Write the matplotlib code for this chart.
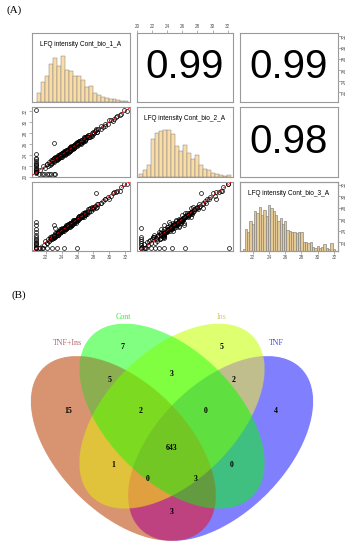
import numpy as np
import matplotlib
matplotlib.use("Agg")
import matplotlib.pyplot as plt

# ------------------------------------------------------------------ data
sample_names = ["LFQ intensity Cont_bio_1_A",
                "LFQ intensity Cont_bio_2_A",
                "LFQ intensity Cont_bio_3_A"]

# per-protein log2 LFQ intensities (estimated from the scatter panels)
rep1 = [21.9, 22.1, 22.3, 22.4, 22.6, 22.7, 22.8, 22.9, 23.0, 23.1, 23.2, 23.3, 23.3, 23.4, 23.5, 23.5,
        23.6, 23.7, 23.7, 23.8, 23.9, 23.9, 24.0, 24.1, 24.1, 24.2, 24.3, 24.3, 24.4, 24.5, 24.5, 24.6,
        24.7, 24.7, 24.8, 24.9, 25.0, 25.0, 25.1, 25.2, 25.2, 25.3, 25.4, 25.5, 25.5, 25.6, 25.7, 25.8,
        25.9, 26.0, 26.0, 26.1, 26.2, 26.3, 26.4, 26.5, 26.6, 26.7, 26.8, 26.9, 27.0, 27.1, 27.2, 27.4,
        27.5, 27.7, 27.8, 28.0, 28.2, 28.4, 28.6, 28.9, 29.2, 29.5, 29.8, 30.2, 30.6, 31.0, 31.5, 32.2,
        22.5, 22.8, 23.0, 23.2, 23.4, 23.5, 23.6, 23.8, 23.9, 24.0, 24.1, 24.2, 24.3, 24.4, 24.5, 24.6,
        24.6, 24.7, 24.8, 24.9, 25.0, 25.1, 25.1, 25.2, 25.3, 25.4, 25.5, 25.6, 25.6, 25.7, 25.8, 25.9,
        26.0, 26.1, 26.2, 26.3, 26.4, 26.5, 26.6, 26.8, 26.9, 27.0, 27.2, 27.3, 27.5, 27.6, 27.9, 28.1,
        28.3, 28.5, 23.3, 23.6, 23.9, 24.2, 24.4, 24.7, 24.9, 25.2, 25.4, 25.7, 25.9, 26.2, 26.4, 26.7,
        27.1, 22.6, 23.1, 23.7, 24.5, 25.3, 26.0, 26.9, 27.8, 29.0, 29.4, 30.0, 30.4, 30.8, 31.3, 31.8,
        20.75, 20.75, 20.75, 20.75, 20.75, 20.75, 20.75, 20.75, 20.75, 20.75, 20.75, 20.75, 20.75, 20.75, 20.75,
        21.2, 21.5, 21.8, 22.1, 22.4, 22.7, 23.0, 23.2,
        20.8, 21.3, 21.7, 22.2, 22.8, 23.4, 24.3, 25.9,
        23.1, 28.3]
rep2 = [21.6, 22.4, 22.0, 22.7, 22.3, 23.0, 22.6, 23.2, 22.8, 23.4, 23.0, 23.6, 23.1, 23.2, 23.8, 23.3,
        23.9, 23.5, 24.0, 23.6, 24.2, 23.7, 24.3, 23.9, 24.4, 24.0, 24.6, 24.1, 24.7, 24.2, 24.8, 24.4,
        24.9, 24.5, 25.1, 24.6, 25.3, 24.8, 25.4, 24.9, 25.5, 25.1, 25.7, 25.2, 25.8, 25.4, 25.9, 25.6,
        26.1, 25.8, 26.2, 25.9, 26.4, 26.1, 26.7, 26.3, 26.8, 26.5, 27.0, 26.7, 27.2, 26.9, 27.4, 27.2,
        27.7, 27.5, 28.0, 27.8, 28.4, 28.2, 28.8, 28.7, 29.0, 29.6, 29.7, 30.3, 30.5, 31.1, 31.4, 32.0,
        22.1, 23.0, 22.9, 23.6, 23.1, 23.6, 23.6, 24.1, 23.7, 23.6, 24.3, 24.1, 24.7, 24.1, 24.6, 24.6,
        24.9, 24.5, 24.4, 25.1, 24.9, 25.5, 24.8, 25.3, 25.3, 25.7, 25.3, 25.2, 25.8, 25.6, 26.2, 25.6,
        26.1, 26.1, 26.5, 26.1, 26.0, 26.7, 26.5, 27.2, 26.6, 27.1, 27.2, 27.6, 27.3, 27.2, 28.1, 28.0,
        28.7, 28.2, 23.4, 23.6, 24.2, 24.0, 24.0, 24.9, 24.8, 25.6, 25.1, 25.8, 25.9, 26.5, 26.2, 26.3,
        27.3, 22.5, 23.5, 23.4, 24.6, 25.3, 26.3, 26.7, 27.4, 29.2, 29.3, 30.4, 30.1, 30.9, 31.3, 32.1,
        20.7, 20.9, 21.1, 21.3, 21.5, 21.7, 21.9, 22.1, 22.3, 22.6, 22.9, 23.2, 23.5, 24.2, 32.2,
        20.45, 20.45, 20.45, 20.45, 20.45, 20.45, 20.45, 20.45,
        20.9, 21.2, 21.9, 22.4, 22.9, 23.6, 24.6, 26.4,
        26.2, 28.5]
rep3 = [22.2, 21.9, 22.5, 22.2, 22.8, 22.5, 23.1, 22.7, 23.3, 22.9, 23.5, 23.1, 23.5, 23.2, 23.7, 23.3,
        23.8, 23.5, 24.0, 23.6, 24.1, 23.8, 24.2, 23.9, 24.4, 24.0, 24.5, 24.2, 24.6, 24.3, 24.8, 24.4,
        25.0, 24.6, 25.0, 24.8, 25.2, 24.9, 25.3, 25.1, 25.4, 25.2, 25.6, 25.3, 25.7, 25.5, 25.9, 25.6,
        26.0, 25.8, 26.2, 26.0, 26.4, 26.2, 26.6, 26.4, 26.8, 26.6, 27.0, 26.8, 27.2, 27.0, 27.3, 27.3,
        27.7, 27.5, 28.0, 27.9, 28.3, 28.1, 28.7, 28.8, 29.1, 29.6, 29.8, 30.1, 30.7, 30.9, 31.6, 32.1,
        22.8, 22.6, 23.1, 22.8, 23.6, 23.5, 23.3, 24.2, 23.8, 24.3, 23.9, 24.3, 23.9, 24.6, 24.5, 24.3,
        25.0, 24.6, 25.1, 24.7, 25.1, 24.7, 25.3, 25.2, 25.0, 25.8, 25.4, 25.9, 25.4, 25.8, 25.4, 26.1,
        26.0, 25.8, 26.6, 26.2, 26.7, 26.3, 26.7, 26.4, 27.1, 27.0, 26.9, 27.7, 27.4, 27.9, 27.7, 28.2,
        27.9, 28.7, 23.3, 23.3, 24.3, 24.1, 24.7, 24.5, 25.0, 24.8, 25.6, 25.7, 25.6, 26.6, 26.3, 27.0,
        26.9, 22.7, 22.7, 23.9, 24.5, 25.0, 26.4, 26.8, 28.1, 28.8, 29.5, 29.6, 30.6, 30.8, 31.0, 32.2,
        21.2, 21.6, 21.0, 22.0, 21.4, 22.4, 21.9, 22.8, 23.3, 22.6, 23.8, 24.3, 25.0, 25.5, 20.9,
        20.9, 21.0, 21.4, 21.8, 22.1, 22.5, 22.8, 24.4,
        20.9, 20.9, 20.9, 20.9, 20.9, 20.9, 20.9, 20.9,
        25.0, 30.6]
replicates = [rep1, rep2, rep3]

# histogram bar heights (relative counts)
hist_counts = [
    [26, 58, 78, 111, 131, 106, 136, 96, 91, 78, 76, 66, 44, 48, 26, 21, 14, 12, 10, 8, 5, 3, 2],
    [8, 20, 36, 110, 128, 133, 136, 136, 126, 90, 75, 93, 71, 53, 63, 35, 23, 20, 13, 8, 6, 3, 6],
    [6, 68, 58, 93, 83, 123, 118, 138, 113, 128, 108, 143, 133, 125, 113, 93, 103, 83, 93, 65,
     63, 58, 60, 55, 58, 60, 28, 28, 25, 28, 11, 8, 15, 8, 13, 23, 8, 5, 25, 5],
]
hist_start = [20.9, 20.3, 20.73]
hist_binwidth = [0.5, 0.53, 0.285]

corr_pairs = [(0, 1), (0, 2), (1, 2)]
corr_values = ["0.99", "0.99", "0.98"]

axis_ticks = [20, 22, 24, 26, 28, 30, 32]

# Venn diagram
set_names = ["TNF+Ins", "Cont", "Ins", "TNF"]
region_sets = [(0,), (1,), (2,), (3,), (0, 1), (1, 2), (2, 3), (0, 1, 2), (1, 2, 3),
               (0, 1, 2, 3), (0, 2), (1, 3), (0, 2, 3), (0, 1, 3), (0, 3)]
region_counts = [15, 7, 5, 4, 5, 3, 2, 2, 0, 643, 1, 0, 0, 3, 3]

# ------------------------------------------------------------------ layout / style
W, H = 356, 550
fig = plt.figure(figsize=(W / 100, H / 100), dpi=100)

var_lims = [(20.27, 32.6), (19.98, 32.72), (20.42, 32.5)]
col_px = [(32, 130), (137, 233), (240, 338)]
row_px = [(33, 102), (107, 177), (182, 251)]

frame_col = "#9a9a9a"
hist_fill = ["#F9DCA6", "#F9DCA6", "#E6CA96"]
hist_edge_lw = [0.35, 0.35, 0.45]
tick_kw = dict(length=2, width=0.4, color="#777777", labelsize=3.3,
               labelcolor="#555555", pad=1)
sans = ["Liberation Sans", "DejaVu Sans"]
serif = ["Liberation Serif", "DejaVu Serif"]


def px_axes(xr, yr):
    return fig.add_axes([xr[0] / W, 1 - yr[1] / H, (xr[1] - xr[0]) / W, (yr[1] - yr[0]) / H])


def style_frame(ax):
    for s in ax.spines.values():
        s.set_color(frame_col)
        s.set_linewidth(0.8)
    ax.set_xticks([])
    ax.set_yticks([])


def ticks_in(lims):
    return [t for t in axis_ticks if lims[0] <= t <= lims[1]]


for i in range(3):
    for j in range(3):
        ax = px_axes(col_px[j], row_px[i])
        style_frame(ax)
        ax.set_xlim(var_lims[j])
        yax = ax
        if i == j:
            cnt = hist_counts[i]
            lefts = [hist_start[i] + k * hist_binwidth[i] for k in range(len(cnt))]
            ax.bar(lefts, cnt, width=hist_binwidth[i], align="edge", color=hist_fill[i],
                   edgecolor="#808080", linewidth=hist_edge_lw[i])
            ax.set_ylim(0, 1.5 * max(cnt))
            ax.text(0.5, 0.83, sample_names[i], transform=ax.transAxes, ha="center",
                    va="center", fontsize=4.7, family=sans)
            if i == 2:
                yax = ax.twinx()
                style_frame(yax)
                yax.set_ylim(var_lims[i])
        elif i > j:
            ax.set_ylim(var_lims[i])
            ax.plot(replicates[j], replicates[i], "o", ms=2.8, mfc="none", mec="black",
                    mew=0.5, zorder=2)
            ax.axline((25, 25), slope=1, color="red", lw=0.6, ls=(0, (3, 2)), zorder=3)
        else:
            ax.set_ylim(var_lims[i])
            k = corr_pairs.index((i, j))
            ax.text(0.5, 0.5, corr_values[k], transform=ax.transAxes, ha="center",
                    va="center", fontsize=29, family=sans)
        # outer axes as in R pairs()
        if i == 2 and j in (0, 2):
            ax.set_xticks(ticks_in(var_lims[j]))
            ax.tick_params(axis="x", bottom=True, labelbottom=True, **tick_kw)
        if i == 0 and j == 1:
            ax.set_xticks(ticks_in(var_lims[j]))
            ax.tick_params(axis="x", top=True, labeltop=True, bottom=False,
                           labelbottom=False, **tick_kw)
        if j == 0 and i == 1:
            ax.set_yticks(ticks_in(var_lims[i]))
            ax.tick_params(axis="y", left=True, labelleft=True, **tick_kw)
            for lb in ax.get_yticklabels():
                lb.set_rotation(90)
                lb.set_va("center")
        if j == 2 and i in (0, 2):
            yax.set_yticks(ticks_in(var_lims[i]))
            yax.tick_params(axis="y", right=True, labelright=True, left=False,
                            labelleft=False, **tick_kw)
            for lb in yax.get_yticklabels():
                lb.set_rotation(90)
                lb.set_va("center")
        for lb in ax.get_xticklabels() + ax.get_yticklabels() + yax.get_yticklabels():
            lb.set_family(sans)

fig.text(14 / W, 1 - 10 / H, "(A)", ha="center", va="center", fontsize=8, family=serif)
fig.text(19 / W, 1 - 295 / H, "(B)", ha="center", va="center", fontsize=8, family=serif)

# ------------------------------------------------------------------ Venn diagram
ell_geom = [(0.35, 0.47, -45), (0.50, 0.57, -45), (0.50, 0.57, 45), (0.65, 0.47, 45)]
ell_a, ell_b = 0.35, 0.20
region_colors = ["#D99470", "#80FF80", "#DFFF70", "#8080FF", "#8BB050", "#80FF40",
                 "#C0BF8C", "#7CDC22", "#60E040", "#72C824", "#E0C43A", "#40C080",
                 "#E0A040", "#649C40", "#BE4280"]
label_pos = [(0.180, 0.585), (0.349, 0.782), (0.651, 0.782), (0.820, 0.585),
             (0.309, 0.681), (0.500, 0.699), (0.691, 0.681), (0.402, 0.585),
             (0.602, 0.585), (0.500, 0.472), (0.318, 0.419), (0.682, 0.419),
             (0.426, 0.376), (0.574, 0.376), (0.500, 0.275)]
name_pos = [(0.180, 0.795), (0.349, 0.875), (0.651, 0.875), (0.820, 0.795)]
name_colors = ["#B8646C", "#3CEB3C", "#D6CC70", "#4646E8"]

vx0, vx1, vy0, vy1 = -0.029, 1.066, 0.1577, 0.9885
vax = fig.add_axes([0, 0, 1, 270 / H])
vax.set_xlim(vx0, vx1)
vax.set_ylim(vy0, vy1)
vax.axis("off")

nx, ny = 1424, 1080
gx, gy = np.meshgrid(np.linspace(vx0, vx1, nx), np.linspace(vy0, vy1, ny))
code = np.zeros(gx.shape, dtype=int)
for k, (cx, cy, ang) in enumerate(ell_geom):
    t = np.deg2rad(ang)
    dx, dy = gx - cx, gy - cy
    u = dx * np.cos(t) + dy * np.sin(t)
    v = -dx * np.sin(t) + dy * np.cos(t)
    code |= (((u / ell_a) ** 2 + (v / ell_b) ** 2) <= 1).astype(int) << k

lut = np.ones((16, 4))
lut[0, 3] = 0.0
for sets, col in zip(region_sets, region_colors):
    idx = sum(1 << s for s in sets)
    lut[idx] = matplotlib.colors.to_rgba(col)
vax.imshow(lut[code], origin="lower", extent=(vx0, vx1, vy0, vy1),
           interpolation="antialiased", aspect="auto")

for (x, y), n in zip(label_pos, region_counts):
    vax.text(x, y, str(n), ha="center", va="center", fontsize=5.6,
             fontweight="bold", family=serif)
for (x, y), nm, c in zip(name_pos, set_names, name_colors):
    vax.text(x, y, nm, ha="center", va="center", fontsize=5.8, family=serif, color=c)

fig.savefig("out.png", dpi=100)
